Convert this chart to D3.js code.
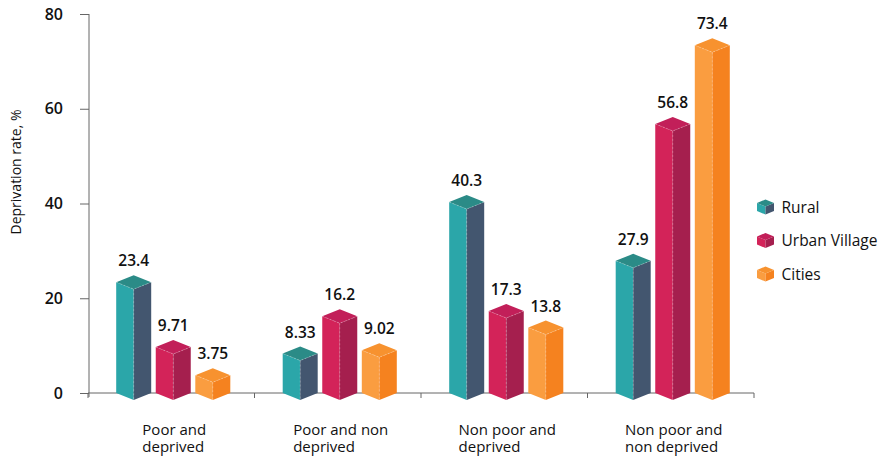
<!DOCTYPE html>
<html>
<head>
<meta charset="utf-8">
<script src="https://cdn.jsdelivr.net/npm/d3@7"></script>
<style>
  body { margin: 0; background: #fff; }
  svg { display: block; font-family: "Open Sans", sans-serif; }
</style>
</head>
<body>
<div id="chart"></div>
<script>
// data
const categories = ['Poor and deprived', 'Poor and non deprived', 'Non poor and deprived', 'Non poor and non deprived']
const categoryLines = [['Poor and', 'deprived'], ['Poor and non', 'deprived'], ['Non poor and', 'deprived'], ['Non poor and', 'non deprived']]
const series = ['Rural', 'Urban Village', 'Cities']
const rural = [23.4, 8.33, 40.3, 27.9]
const urbanVillage = [9.71, 16.2, 17.3, 56.8]
const cities = [3.75, 9.02, 13.8, 73.4]
const yTicks = [0, 20, 40, 60, 80]

const seriesValues = [rural, urbanVillage, cities]

// front / side / top faces
const colors = {
	'Rural': ['#2ba6a9', '#43566f', '#2b8b87'],
	'Urban Village': ['#d32359', '#a51f4e', '#c21f59'],
	'Cities': ['#fa9d40', '#f5821f', '#f7922f']
}

let width = 878
let height = 457

const svg = d3.select('#chart')
	.append('svg')
	.attr('width', width)
	.attr('height', height)

let xScale = d3.scaleBand()
	.domain(categories)
	.range([88, 754])

let subScale = d3.scaleBand()
	.domain(series)
	.range([0, xScale.bandwidth()])
	.paddingInner(0.11)
	.paddingOuter(0.66)

let yScale = d3.scaleLinear()
	.domain([0, 80])
	.range([393, 14])

// y axis
let yG = svg.append('g')
	.attr('transform', 'translate(89,0)')
	.call(d3.axisLeft(yScale).tickValues(yTicks).tickSize(9).tickSizeOuter(0).tickPadding(17))

yG.select('.domain').attr('stroke', '#666').attr('d', 'M0,14V397')
yG.selectAll('line').attr('stroke', '#666')
yG.selectAll('text')
	.attr('fill', '#111')
	.attr('font-size', 16)
	.attr('font-weight', 600)
	.attr('font-family', '"Open Sans", sans-serif')

svg.append('text')
	.attr('transform', 'translate(21,172) rotate(-90)')
	.attr('text-anchor', 'middle')
	.attr('font-size', 14)
	.attr('fill', '#111')
	.text('Deprivation rate, %')

// x axis line with ticks at group boundaries
let boundaries = categories.map(c => xScale(c)).concat([xScale.range()[1]])

svg.append('line')
	.attr('x1', xScale.range()[0])
	.attr('x2', xScale.range()[1])
	.attr('y1', yScale(0))
	.attr('y2', yScale(0))
	.attr('stroke', '#666')

svg.selectAll('.xtick')
	.data(boundaries)
	.enter()
	.append('line')
	.attr('x1', d => d)
	.attr('x2', d => d)
	.attr('y1', yScale(0))
	.attr('y2', yScale(0) + 5)
	.attr('stroke', '#666')

// category labels, block centred, lines left aligned
categories.forEach(function(c, i){
	let t = svg.append('text')
		.attr('font-size', 15)
		.attr('fill', '#111')
	categoryLines[i].forEach(function(line, j){
		t.append('tspan')
			.attr('x', 0)
			.attr('y', 435 + j * 17)
			.text(line)
	})
	let w = t.node().getBBox().width
	t.selectAll('tspan').attr('x', xScale(c) + xScale.bandwidth() / 2 - w / 2 + 3)
})

// 3d prisms
let hw = 17.5
let dh = 7
let y0 = yScale(0)

let bars = []
categories.forEach(function(c, i){
	series.forEach(function(s, k){
		bars.push({cat: c, series: s, value: seriesValues[k][i]})
	})
})

let barG = svg.selectAll('.bar')
	.data(bars)
	.enter()
	.append('g')
	.attr('class', 'bar')
	.attr('transform', d => `translate(${xScale(d.cat) + subScale(d.series) + subScale.bandwidth() / 2 + 2},0)`)

barG.append('path')
	.attr('d', d => {
		let y = yScale(d.value)
		return `M${-hw},${y}L0,${y + dh}L0,${y0 + dh}L${-hw},${y0}Z`
	})
	.attr('fill', d => colors[d.series][0])

barG.append('path')
	.attr('d', d => {
		let y = yScale(d.value)
		return `M0,${y + dh}L${hw},${y}L${hw},${y0}L0,${y0 + dh}Z`
	})
	.attr('fill', d => colors[d.series][1])

barG.append('path')
	.attr('d', d => {
		let y = yScale(d.value)
		return `M${-hw},${y}L0,${y - dh}L${hw},${y}L0,${y + dh}Z`
	})
	.attr('fill', d => colors[d.series][2])

// faint dashed edges
barG.append('path')
	.attr('d', d => {
		let y = yScale(d.value)
		return `M${-hw},${y}L0,${y + dh}L${hw},${y}M0,${y + dh}L0,${y0 + dh}`
	})
	.attr('fill', 'none')
	.attr('stroke', 'white')
	.attr('stroke-opacity', 0.35)
	.attr('stroke-width', 0.7)
	.attr('stroke-dasharray', '2,2')

barG.append('text')
	.attr('x', 0)
	.attr('y', d => yScale(d.value) - dh - 9)
	.attr('text-anchor', 'middle')
	.attr('font-size', 15.5)
	.attr('font-weight', 600)
	.attr('fill', '#111')
	.text(d => d.value)

// legend
let legend = svg.selectAll('.legend')
	.data(series)
	.enter()
	.append('g')
	.attr('class', 'legend')
	.attr('transform', (d, i) => `translate(765.5,${207 + i * 33.5})`)

let lw = 8.5
let ld = 3.5
let lh = 8

legend.append('path')
	.attr('d', `M${-lw},${-lh / 2}L0,${-lh / 2 + ld}L0,${lh / 2 + ld}L${-lw},${lh / 2}Z`)
	.attr('fill', d => colors[d][0])
legend.append('path')
	.attr('d', `M0,${-lh / 2 + ld}L${lw},${-lh / 2}L${lw},${lh / 2}L0,${lh / 2 + ld}Z`)
	.attr('fill', d => colors[d][1])
legend.append('path')
	.attr('d', `M${-lw},${-lh / 2}L0,${-lh / 2 - ld}L${lw},${-lh / 2}L0,${-lh / 2 + ld}Z`)
	.attr('fill', d => colors[d][2])

legend.append('text')
	.attr('x', 16)
	.attr('y', 5.5)
	.attr('font-size', 15.5)
	.attr('font-weight', 500)
	.attr('fill', '#111')
	.text(d => d)
</script>
</body>
</html>
